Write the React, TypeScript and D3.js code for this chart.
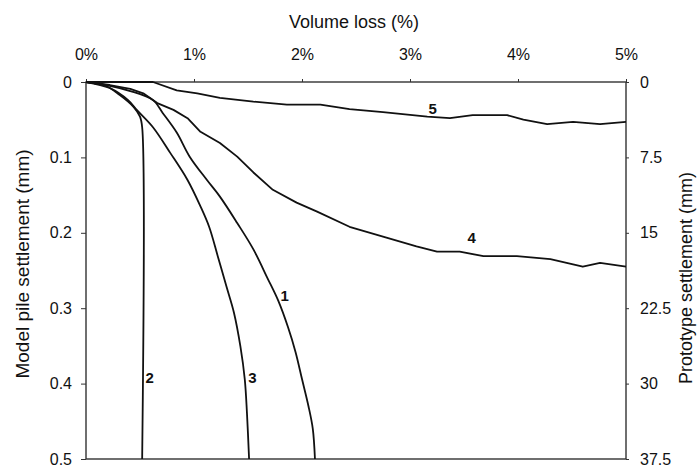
import React, { useEffect, useRef } from 'react';
import * as d3 from 'd3';

// volume loss (%) vs model pile settlement (mm)
const vl1 = [0, 0.22, 0.41, 0.62, 0.71, 0.84, 0.96, 1.12, 1.24, 1.4, 1.55, 1.68, 1.78, 1.87, 1.94, 2.0, 2.06, 2.1, 2.12];
const s1 = [0, 0.005, 0.012, 0.024, 0.041, 0.067, 0.099, 0.13, 0.152, 0.187, 0.222, 0.26, 0.29, 0.325, 0.358, 0.394, 0.43, 0.46, 0.5];

const vl2 = [0, 0.18, 0.31, 0.44, 0.5, 0.52, 0.52];
const s2 = [0, 0.005, 0.017, 0.033, 0.046, 0.06, 0.5];

const vl3 = [0, 0.22, 0.39, 0.47, 0.62, 0.78, 0.94, 1.06, 1.14, 1.22, 1.3, 1.37, 1.43, 1.47, 1.49, 1.51];
const s3 = [0, 0.008, 0.024, 0.037, 0.06, 0.094, 0.13, 0.165, 0.192, 0.231, 0.271, 0.306, 0.351, 0.394, 0.438, 0.5];

const vl4 = [0, 0.22, 0.41, 0.53, 0.66, 0.81, 0.94, 1.06, 1.24, 1.4, 1.55, 1.73, 1.95, 2.14, 2.44, 2.75, 3.06, 3.25, 3.46, 3.68, 3.99, 4.3, 4.6, 4.76, 5.0];
const s4 = [0, 0.004, 0.009, 0.015, 0.028, 0.037, 0.048, 0.066, 0.081, 0.099, 0.12, 0.143, 0.16, 0.172, 0.192, 0.205, 0.218, 0.225, 0.225, 0.231, 0.231, 0.235, 0.245, 0.24, 0.245];

const vl5 = [0, 0.62, 0.84, 1.03, 1.24, 1.55, 1.86, 2.17, 2.44, 2.75, 3.16, 3.37, 3.58, 3.9, 4.05, 4.27, 4.51, 4.76, 5.0];
const s5 = [0, 0, 0.011, 0.015, 0.021, 0.026, 0.03, 0.03, 0.036, 0.04, 0.046, 0.048, 0.044, 0.044, 0.05, 0.056, 0.053, 0.056, 0.053];

const curveNames = ['1', '2', '3', '4', '5'];
// label anchor (volume loss %, settlement mm)
const labelVl = [1.84, 0.59, 1.54, 3.57, 3.21];
const labelS = [0.284, 0.392, 0.392, 0.206, 0.036];

const xTicks = [0, 1, 2, 3, 4, 5];
const leftTicks = [0, 0.1, 0.2, 0.3, 0.4, 0.5];
const rightTicks = [0, 7.5, 15, 22.5, 30, 37.5];

const W = 697;
const H = 468;
const margin = { top: 82, right: 71, bottom: 9, left: 86 };

export default function App() {
  const ref = useRef<SVGSVGElement>(null);

  useEffect(() => {
    const svg = d3.select(ref.current);
    svg.selectAll('*').remove();

    const x = d3.scaleLinear().domain([0, 5]).range([margin.left, W - margin.right]);
    const y = d3.scaleLinear().domain([0, 0.5]).range([margin.top, H - margin.bottom]);
    const yr = d3.scaleLinear().domain([0, 37.5]).range([margin.top, H - margin.bottom]);

    const font = 'Liberation Sans, Arial, sans-serif';

    // frame
    svg.append('rect')
      .attr('x', x(0)).attr('y', y(0))
      .attr('width', x(5) - x(0)).attr('height', y(0.5) - y(0))
      .attr('fill', 'none').attr('stroke', '#333').attr('stroke-width', 1.4);

    const gx = svg.append('g').attr('transform', `translate(0,${y(0)})`)
      .call(d3.axisTop(x).tickValues(xTicks).tickSize(3).tickPadding(19).tickFormat((d) => `${d}%`));
    const gl = svg.append('g').attr('transform', `translate(${x(0)},0)`)
      .call(d3.axisLeft(y).tickValues(leftTicks).tickSize(5).tickPadding(9).tickFormat((d) => (d === 0 ? '0' : d3.format('.1f')(d as number))));
    const gr = svg.append('g').attr('transform', `translate(${x(5)},0)`)
      .call(d3.axisRight(yr).tickValues(rightTicks).tickSize(3).tickPadding(11).tickFormat((d) => `${d}`));

    [gx, gl, gr].forEach((g) => {
      g.select('.domain').remove();
      g.selectAll('line').attr('stroke', '#333');
      g.selectAll('text').attr('font-family', font).attr('font-size', 16).attr('fill', '#111');
    });

    // titles
    svg.append('text').attr('x', 354).attr('y', 28).attr('text-anchor', 'middle')
      .attr('font-family', font).attr('font-size', 18).attr('fill', '#111').text('Volume loss (%)');
    svg.append('text').attr('transform', 'translate(29,264) rotate(-90)').attr('text-anchor', 'middle')
      .attr('font-family', font).attr('font-size', 19).attr('fill', '#111').text('Model pile settlement (mm)');
    svg.append('text').attr('transform', 'translate(692,278) rotate(-90)').attr('text-anchor', 'middle')
      .attr('font-family', font).attr('font-size', 18).attr('fill', '#111').text('Prototype settlement (mm)');

    const series = [
      { xs: vl1, ys: s1, smooth: true },
      { xs: vl2, ys: s2, smooth: true },
      { xs: vl3, ys: s3, smooth: true },
      { xs: vl4, ys: s4, smooth: false },
      { xs: vl5, ys: s5, smooth: false },
    ];

    series.forEach((s) => {
      const pts: [number, number][] = s.xs.map((v, i) => [v, s.ys[i]]);
      const line = d3.line<[number, number]>()
        .x((d) => x(d[0]))
        .y((d) => y(d[1]))
        .curve(s.smooth ? d3.curveCatmullRom.alpha(0.5) : d3.curveLinear);
      svg.append('path').attr('d', line(pts)!)
        .attr('fill', 'none').attr('stroke', '#111').attr('stroke-width', 1.8)
        .attr('stroke-linejoin', 'round');
    });

    svg.selectAll('text.lab').data(curveNames).enter().append('text')
      .attr('class', 'lab')
      .attr('x', (_, i) => x(labelVl[i]))
      .attr('y', (_, i) => y(labelS[i]))
      .attr('dy', '0.35em').attr('text-anchor', 'middle')
      .attr('font-family', font).attr('font-size', 15).attr('font-weight', 'bold').attr('fill', '#111')
      .text((d) => d);
  }, []);

  return (
    <svg ref={ref} width={W} height={H} style={{ position: 'absolute', left: 0, top: 0, background: '#fff' }} />
  );
}
